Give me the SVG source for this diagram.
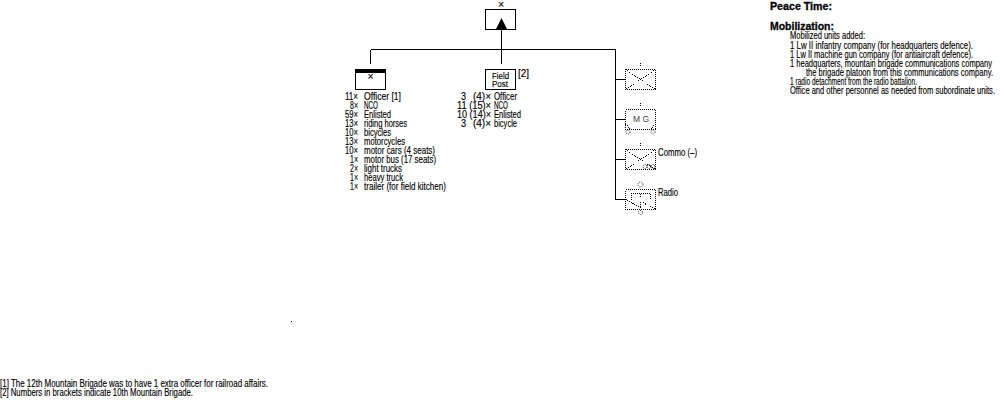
<svg xmlns="http://www.w3.org/2000/svg" width="1000" height="400" viewBox="0 0 1000 400">
<style>
text{font-family:"Liberation Sans",Arial,sans-serif;font-size:10.5px;fill:#000;stroke:#000;stroke-width:.15}
.b{font-weight:bold;font-size:11px;stroke-width:.3}
.m{text-anchor:middle}
.s{font-size:8.500px}
.solid{fill:#fff;stroke:#000;stroke-width:1;shape-rendering:crispEdges}
.line{fill:none;stroke:#000;stroke-width:1;shape-rendering:crispEdges}
.dot{fill:none;stroke:#000;stroke-width:1;stroke-dasharray:1 1;shape-rendering:crispEdges}
.ring{fill:none;stroke:#000;stroke-width:.8;stroke-dasharray:1 1}
.faint{fill:#444;stroke:none;font-size:9px}
</style>
<rect width="1000" height="400" fill="#fff"/>

<g id="connectors">
<path class="line" d="M501.500 29V64M370.500 49.500H616M370.500 49.500V64M615.500 49V200M615.500 79.500H625M615.500 119.500H625M615.500 159.500H625M615.500 199.500H625"/>
</g>

<g id="brigade-hq">
<text class="m" x="501" y="8">×</text>
<rect class="solid" x="485.500" y="9.500" width="30" height="20"/>
<path d="M501.500 18L507 29H496Z"/>
</g>

<g id="hq-company">
<rect class="solid" x="355.500" y="69.500" width="30" height="20"/>
<rect x="355" y="69" width="31" height="4"/>
<text class="m" x="370.500" y="80">×</text>
<text x="345" y="100" textLength="13" lengthAdjust="spacingAndGlyphs">11×</text><text x="364" y="100" textLength="37" lengthAdjust="spacingAndGlyphs">Officer [1]</text>
<text x="350" y="109" textLength="8" lengthAdjust="spacingAndGlyphs">8×</text><text x="364" y="109" textLength="14" lengthAdjust="spacingAndGlyphs">NCO</text>
<text x="345" y="118" textLength="13" lengthAdjust="spacingAndGlyphs">59×</text><text x="364" y="118" textLength="27" lengthAdjust="spacingAndGlyphs">Enlisted</text>
<text x="345" y="127" textLength="13" lengthAdjust="spacingAndGlyphs">13×</text><text x="364" y="127" textLength="43" lengthAdjust="spacingAndGlyphs">riding horses</text>
<text x="345" y="136" textLength="13" lengthAdjust="spacingAndGlyphs">10×</text><text x="364" y="136" textLength="27" lengthAdjust="spacingAndGlyphs">bicycles</text>
<text x="345" y="145" textLength="13" lengthAdjust="spacingAndGlyphs">13×</text><text x="364" y="145" textLength="41" lengthAdjust="spacingAndGlyphs">motorcycles</text>
<text x="345" y="154" textLength="13" lengthAdjust="spacingAndGlyphs">10×</text><text x="364" y="154" textLength="71" lengthAdjust="spacingAndGlyphs">motor cars (4 seats)</text>
<text x="350" y="163" textLength="8" lengthAdjust="spacingAndGlyphs">1×</text><text x="364" y="163" textLength="72" lengthAdjust="spacingAndGlyphs">motor bus (17 seats)</text>
<text x="350" y="172" textLength="8" lengthAdjust="spacingAndGlyphs">2×</text><text x="364" y="172" textLength="38" lengthAdjust="spacingAndGlyphs">light trucks</text>
<text x="350" y="181" textLength="8" lengthAdjust="spacingAndGlyphs">1×</text><text x="364" y="181" textLength="39" lengthAdjust="spacingAndGlyphs">heavy truck</text>
<text x="350" y="190" textLength="8" lengthAdjust="spacingAndGlyphs">1×</text><text x="364" y="190" textLength="82" lengthAdjust="spacingAndGlyphs">trailer (for field kitchen)</text>
</g>

<g id="field-post">
<rect class="solid" x="485.500" y="69.500" width="30" height="20"/>
<text class="s" x="492" y="79" textLength="17" lengthAdjust="spacingAndGlyphs">Field</text>
<text class="s" x="492" y="87" textLength="16" lengthAdjust="spacingAndGlyphs">Post</text>
<text x="518" y="77" textLength="11" lengthAdjust="spacingAndGlyphs">[2]</text>
<text x="461" y="100" textLength="5" lengthAdjust="spacingAndGlyphs">3</text><text x="473" y="100" textLength="18" lengthAdjust="spacingAndGlyphs">(4)×</text><text x="494" y="100" textLength="23" lengthAdjust="spacingAndGlyphs">Officer</text>
<text x="457" y="109" textLength="34" lengthAdjust="spacingAndGlyphs">11 (15)×</text><text x="494" y="109" textLength="14" lengthAdjust="spacingAndGlyphs">NCO</text>
<text x="457" y="118" textLength="34" lengthAdjust="spacingAndGlyphs">10 (14)×</text><text x="494" y="118" textLength="27" lengthAdjust="spacingAndGlyphs">Enlisted</text>
<text x="461" y="127" textLength="5" lengthAdjust="spacingAndGlyphs">3</text><text x="473" y="127" textLength="18" lengthAdjust="spacingAndGlyphs">(4)×</text><text x="494" y="127" textLength="23" lengthAdjust="spacingAndGlyphs">bicycle</text>
</g>

<g id="infantry-company">
<path class="dot" d="M640.500 63V67"/>
<rect class="dot" x="625.500" y="69.500" width="30" height="20"/>
<path class="dot" d="M625.500 69.500L655.500 89.500M655.500 69.500L625.500 89.500"/>
</g>

<g id="machine-gun-company">
<path class="dot" d="M640.500 103V107"/>
<rect class="dot" x="625.500" y="109.500" width="30" height="20"/>
<path class="dot" d="M625.500 124L630 129M655.500 124L651 129"/>
<text class="faint" x="633" y="122" textLength="16" lengthAdjust="spacingAndGlyphs">M G</text>
<circle class="ring" cx="628" cy="132" r="2"/>
<circle class="ring" cx="653" cy="132" r="2"/>
</g>

<g id="communications-company">
<path class="dot" d="M640.500 143V147"/>
<rect class="dot" x="625.500" y="149.500" width="30" height="20"/>
<path class="dot" d="M625.500 149.500L655.500 169.500M655.500 149.500L625.500 169.500"/>
<circle class="ring" cx="645" cy="166.500" r="2"/>
<circle class="ring" cx="649" cy="166.500" r="2"/>
<circle class="ring" cx="653" cy="166.500" r="2"/>
<text x="658" y="156" textLength="39" lengthAdjust="spacingAndGlyphs">Commo (–)</text>
</g>

<g id="radio-detachment">
<circle class="ring" cx="640.500" cy="184.500" r="2.500"/>
<rect class="dot" x="625.500" y="189.500" width="30" height="20"/>
<path class="dot" d="M631.500 200V193.500H650.500V200M640.500 193.500V198M625.500 199.500L640 207L640 201L655.500 209.500"/>
<circle class="ring" cx="640.500" cy="212.500" r="2"/>
<text x="658" y="196" textLength="20" lengthAdjust="spacingAndGlyphs">Radio</text>
</g>

<g id="mobilization-notes">
<text class="b" x="770" y="10" textLength="62" lengthAdjust="spacingAndGlyphs">Peace Time:</text>
<text class="b" x="770" y="30" textLength="64" lengthAdjust="spacingAndGlyphs">Mobilization:</text>
<text x="790" y="39" textLength="75" lengthAdjust="spacingAndGlyphs">Mobilized units added:</text>
<text x="790" y="49" textLength="183" lengthAdjust="spacingAndGlyphs">1 Lw II infantry company (for headquarters defence).</text>
<text x="790" y="58" textLength="183" lengthAdjust="spacingAndGlyphs">1 Lw II machine gun company (for antiaircraft defence).</text>
<text x="790" y="67" textLength="202" lengthAdjust="spacingAndGlyphs">1 headquarters, mountain brigade communications company</text>
<text x="806" y="76" textLength="187" lengthAdjust="spacingAndGlyphs">the brigade platoon from this communications company.</text>
<text x="790" y="85" textLength="127" lengthAdjust="spacingAndGlyphs">1 radio detachment from the radio battalion.</text>
<text x="790" y="94" textLength="205" lengthAdjust="spacingAndGlyphs">Office and other personnel as needed from subordinate units.</text>
</g>

<rect x="291" y="321" width="1" height="1"/>

<g id="footnotes">
<text x="0" y="387" textLength="268" lengthAdjust="spacingAndGlyphs">[1] The 12th Mountain Brigade was to have 1 extra officer for railroad affairs.</text>
<text x="0" y="396" textLength="193" lengthAdjust="spacingAndGlyphs">[2] Numbers in brackets indicate 10th Mountain Brigade.</text>
</g>
</svg>
